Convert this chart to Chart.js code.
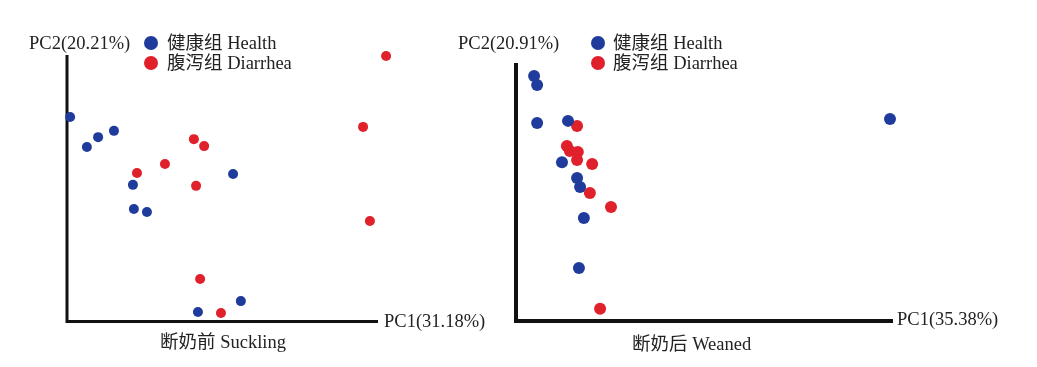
<!DOCTYPE html>
<html>
<head>
<meta charset="utf-8">
<script src="https://cdn.jsdelivr.net/npm/chart.js@4.4.1/dist/chart.umd.min.js"></script>
<style>
  html, body { margin: 0; padding: 0; background: #fff; }
  body { width: 1037px; height: 367px; position: relative; overflow: hidden;
         font-family: "Liberation Serif", "Noto Sans CJK SC", serif; color: #222; }
  canvas { position: absolute; top: 0; }
  .t { position: absolute; font-size: 18.5px; line-height: 20px; white-space: nowrap; }
  .dot { position: absolute; width: 14px; height: 14px; border-radius: 50%; }
</style>
</head>
<body>
<canvas id="c1" width="500" height="367" style="left:0px"></canvas>
<canvas id="c2" width="537" height="367" style="left:500px"></canvas>

<div class="t" style="left:29px;top:33px">PC2(20.21%)</div>
<div class="dot" style="left:144px;top:36px;background:#1f3b9b"></div>
<div class="t" style="left:167px;top:33px">健康组 Health</div>
<div class="dot" style="left:144px;top:56px;background:#e0202b"></div>
<div class="t" style="left:167px;top:53px">腹泻组 Diarrhea</div>
<div class="t" style="left:384px;top:311px">PC1(31.18%)</div>
<div class="t" style="left:160px;top:332px">断奶前 Suckling</div>

<div class="t" style="left:458px;top:33px">PC2(20.91%)</div>
<div class="dot" style="left:591px;top:36px;background:#1f3b9b"></div>
<div class="t" style="left:613px;top:33px">健康组 Health</div>
<div class="dot" style="left:591px;top:56px;background:#e0202b"></div>
<div class="t" style="left:613px;top:53px">腹泻组 Diarrhea</div>
<div class="t" style="left:897px;top:309px">PC1(35.38%)</div>
<div class="t" style="left:632px;top:334px">断奶后 Weaned</div>

<script>
// ---- Data (PCA scores) ----
const seriesNames = ["健康组 Health", "腹泻组 Diarrhea"];

// Suckling (断奶前)
const sucklingHealthPC1 = [-0.290, -0.236, -0.200, -0.149, 0.234, -0.088, -0.085, -0.043, 0.259, 0.121];
const sucklingHealthPC2 = [0.313, 0.222, 0.252, 0.271, 0.141, 0.108, 0.035, 0.026, -0.243, -0.276];
const sucklingDiarrheaPC1 = [0.726, 0.652, 0.108, 0.141, 0.015, -0.075, 0.115, 0.674, 0.128, 0.195];
const sucklingDiarrheaPC2 = [0.497, 0.283, 0.246, 0.225, 0.171, 0.144, 0.105, -0.001, -0.176, -0.279];

// Weaned (断奶后)
const weanedHealthPC1 = [-0.152, -0.144, -0.144, -0.062, -0.078, -0.038, -0.030, -0.020, -0.033, 0.792];
const weanedHealthPC2 = [0.465, 0.437, 0.317, 0.324, 0.194, 0.144, 0.116, 0.018, -0.139, 0.330];
const weanedDiarrheaPC1 = [-0.038, -0.065, -0.057, -0.036, -0.038, 0.002, -0.004, 0.052, 0.023];
const weanedDiarrheaPC2 = [0.308, 0.245, 0.229, 0.226, 0.201, 0.188, 0.097, 0.053, -0.268];

// scale ranges and where the drawn axis lines end
const sucklingRange = { xMin: -0.3, xMax: 0.75, yMin: -0.3, yMax: 0.5, axisXEnd: 0.7 };
const weanedRange = { xMin: -0.2, xMax: 0.8, yMin: -0.3, yMax: 0.5, axisXEnd: 0.8 };

const BLUE = "#1f3b9b", RED = "#e0202b";

function pts(xs, ys) { return xs.map((x, i) => ({ x: x, y: ys[i] })); }

function axesPlugin(lw, ext, axisXEnd) {
  return {
    id: "axesLines",
    beforeDatasetsDraw(chart) {
      const a = chart.chartArea, ctx = chart.ctx;
      const xEnd = chart.scales.x.getPixelForValue(axisXEnd);
      ctx.save();
      ctx.strokeStyle = "#111";
      ctx.lineWidth = lw;
      ctx.beginPath();
      ctx.moveTo(a.left, a.top - ext);
      ctx.lineTo(a.left, a.bottom + lw / 2);
      ctx.lineTo(xEnd, a.bottom + lw / 2);
      ctx.stroke();
      ctx.restore();
    }
  };
}

function makeChart(id, hx, hy, dx, dy, range, pad, radius, lw, ext) {
  new Chart(document.getElementById(id), {
    type: "scatter",
    data: {
      datasets: [
        { label: seriesNames[0], data: pts(hx, hy), backgroundColor: BLUE, borderColor: BLUE,
          pointRadius: radius, borderWidth: 0, clip: false },
        { label: seriesNames[1], data: pts(dx, dy), backgroundColor: RED, borderColor: RED,
          pointRadius: radius, borderWidth: 0, clip: false }
      ]
    },
    options: {
      responsive: false,
      animation: false,
      events: [],
      layout: { padding: pad },
      plugins: { legend: { display: false }, tooltip: { enabled: false } },
      scales: {
        x: { type: "linear", display: false, min: range.xMin, max: range.xMax },
        y: { type: "linear", display: false, min: range.yMin, max: range.yMax }
      }
    },
    plugins: [axesPlugin(lw, ext, range.axisXEnd)]
  });
}

// left chart: x from 67 to ~394 (axis line ends at 0.7 -> ~378)
makeChart("c1", sucklingHealthPC1, sucklingHealthPC2, sucklingDiarrheaPC1, sucklingDiarrheaPC2,
  sucklingRange, { left: 67, right: 500 - 67 - 311 * 1.05, top: 55, bottom: 47 }, 5, 3, 0);
makeChart("c2", weanedHealthPC1, weanedHealthPC2, weanedDiarrheaPC1, weanedDiarrheaPC2,
  weanedRange, { left: 16, right: 144, top: 65, bottom: 48 }, 6, 4, 2);
</script>
</body>
</html>
